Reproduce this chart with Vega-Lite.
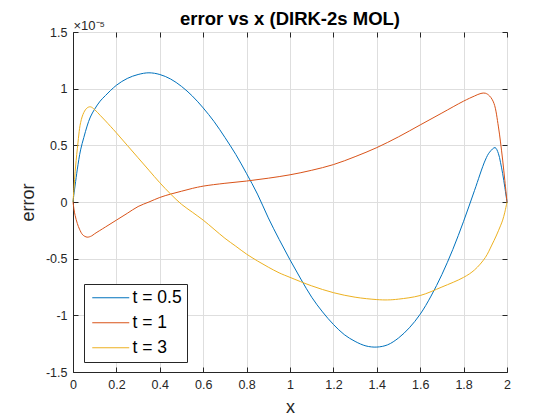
{
  "$schema": "https://vega.github.io/schema/vega-lite/v6.json",
  "width": 434,
  "height": 340,
  "autosize": {"type": "none"},
  "padding": {"left": 73, "top": 32, "right": 53, "bottom": 48},
  "background": "white",
  "config": {
    "font": "Liberation Sans",
    "view": {"stroke": "#262626", "strokeWidth": 1}
  },
  "title": {
    "text": "error vs x (DIRK-2s MOL)",
    "font": "Liberation Sans",
    "fontSize": 18.5,
    "fontWeight": "bold",
    "color": "black",
    "anchor": "middle",
    "baseline": "alphabetic",
    "offset": -24
  },
  "data": {
    "values": [
      {"series": "t = 0.5", "x": 0, "error": 0},
      {"series": "t = 0.5", "x": 0.005, "error": 0.08e-5},
      {"series": "t = 0.5", "x": 0.01, "error": 0.15e-5},
      {"series": "t = 0.5", "x": 0.02, "error": 0.29e-5},
      {"series": "t = 0.5", "x": 0.035, "error": 0.46e-5},
      {"series": "t = 0.5", "x": 0.05, "error": 0.57e-5},
      {"series": "t = 0.5", "x": 0.065, "error": 0.67e-5},
      {"series": "t = 0.5", "x": 0.08, "error": 0.75e-5},
      {"series": "t = 0.5", "x": 0.1, "error": 0.82e-5},
      {"series": "t = 0.5", "x": 0.125, "error": 0.89e-5},
      {"series": "t = 0.5", "x": 0.15, "error": 0.94e-5},
      {"series": "t = 0.5", "x": 0.2, "error": 1.03e-5},
      {"series": "t = 0.5", "x": 0.25, "error": 1.09e-5},
      {"series": "t = 0.5", "x": 0.3, "error": 1.125e-5},
      {"series": "t = 0.5", "x": 0.35, "error": 1.14e-5},
      {"series": "t = 0.5", "x": 0.4, "error": 1.125e-5},
      {"series": "t = 0.5", "x": 0.45, "error": 1.085e-5},
      {"series": "t = 0.5", "x": 0.5, "error": 1.02e-5},
      {"series": "t = 0.5", "x": 0.55, "error": 0.935e-5},
      {"series": "t = 0.5", "x": 0.6, "error": 0.83e-5},
      {"series": "t = 0.5", "x": 0.65, "error": 0.71e-5},
      {"series": "t = 0.5", "x": 0.7, "error": 0.57e-5},
      {"series": "t = 0.5", "x": 0.75, "error": 0.42e-5},
      {"series": "t = 0.5", "x": 0.8, "error": 0.25e-5},
      {"series": "t = 0.5", "x": 0.85, "error": 0.07e-5},
      {"series": "t = 0.5", "x": 0.9, "error": -0.14e-5},
      {"series": "t = 0.5", "x": 0.95, "error": -0.33e-5},
      {"series": "t = 0.5", "x": 1.0, "error": -0.51e-5},
      {"series": "t = 0.5", "x": 1.05, "error": -0.68e-5},
      {"series": "t = 0.5", "x": 1.1, "error": -0.84e-5},
      {"series": "t = 0.5", "x": 1.15, "error": -0.97e-5},
      {"series": "t = 0.5", "x": 1.2, "error": -1.08e-5},
      {"series": "t = 0.5", "x": 1.25, "error": -1.17e-5},
      {"series": "t = 0.5", "x": 1.3, "error": -1.23e-5},
      {"series": "t = 0.5", "x": 1.35, "error": -1.27e-5},
      {"series": "t = 0.5", "x": 1.4, "error": -1.28e-5},
      {"series": "t = 0.5", "x": 1.45, "error": -1.26e-5},
      {"series": "t = 0.5", "x": 1.5, "error": -1.2e-5},
      {"series": "t = 0.5", "x": 1.55, "error": -1.11e-5},
      {"series": "t = 0.5", "x": 1.6, "error": -0.99e-5},
      {"series": "t = 0.5", "x": 1.65, "error": -0.83e-5},
      {"series": "t = 0.5", "x": 1.7, "error": -0.64e-5},
      {"series": "t = 0.5", "x": 1.75, "error": -0.42e-5},
      {"series": "t = 0.5", "x": 1.8, "error": -0.17e-5},
      {"series": "t = 0.5", "x": 1.85, "error": 0.1e-5},
      {"series": "t = 0.5", "x": 1.9, "error": 0.37e-5},
      {"series": "t = 0.5", "x": 1.92, "error": 0.44e-5},
      {"series": "t = 0.5", "x": 1.945, "error": 0.48e-5},
      {"series": "t = 0.5", "x": 1.96, "error": 0.43e-5},
      {"series": "t = 0.5", "x": 1.97, "error": 0.35e-5},
      {"series": "t = 0.5", "x": 1.98, "error": 0.25e-5},
      {"series": "t = 0.5", "x": 1.99, "error": 0.13e-5},
      {"series": "t = 0.5", "x": 2, "error": 0},
      {"series": "t = 1", "x": 0, "error": 0},
      {"series": "t = 1", "x": 0.005, "error": -0.07e-5},
      {"series": "t = 1", "x": 0.01, "error": -0.12e-5},
      {"series": "t = 1", "x": 0.02, "error": -0.19e-5},
      {"series": "t = 1", "x": 0.03, "error": -0.24e-5},
      {"series": "t = 1", "x": 0.045, "error": -0.29e-5},
      {"series": "t = 1", "x": 0.065, "error": -0.31e-5},
      {"series": "t = 1", "x": 0.085, "error": -0.3e-5},
      {"series": "t = 1", "x": 0.1, "error": -0.28e-5},
      {"series": "t = 1", "x": 0.15, "error": -0.22e-5},
      {"series": "t = 1", "x": 0.2, "error": -0.16e-5},
      {"series": "t = 1", "x": 0.25, "error": -0.1e-5},
      {"series": "t = 1", "x": 0.3, "error": -0.04e-5},
      {"series": "t = 1", "x": 0.35, "error": 0.0},
      {"series": "t = 1", "x": 0.4, "error": 0.04e-5},
      {"series": "t = 1", "x": 0.45, "error": 0.07e-5},
      {"series": "t = 1", "x": 0.5, "error": 0.095e-5},
      {"series": "t = 1", "x": 0.55, "error": 0.12e-5},
      {"series": "t = 1", "x": 0.6, "error": 0.14e-5},
      {"series": "t = 1", "x": 0.7, "error": 0.165e-5},
      {"series": "t = 1", "x": 0.8, "error": 0.185e-5},
      {"series": "t = 1", "x": 0.9, "error": 0.21e-5},
      {"series": "t = 1", "x": 1.0, "error": 0.24e-5},
      {"series": "t = 1", "x": 1.1, "error": 0.28e-5},
      {"series": "t = 1", "x": 1.2, "error": 0.33e-5},
      {"series": "t = 1", "x": 1.3, "error": 0.4e-5},
      {"series": "t = 1", "x": 1.4, "error": 0.48e-5},
      {"series": "t = 1", "x": 1.5, "error": 0.575e-5},
      {"series": "t = 1", "x": 1.6, "error": 0.68e-5},
      {"series": "t = 1", "x": 1.7, "error": 0.785e-5},
      {"series": "t = 1", "x": 1.8, "error": 0.89e-5},
      {"series": "t = 1", "x": 1.85, "error": 0.935e-5},
      {"series": "t = 1", "x": 1.88, "error": 0.958e-5},
      {"series": "t = 1", "x": 1.9, "error": 0.96e-5},
      {"series": "t = 1", "x": 1.92, "error": 0.935e-5},
      {"series": "t = 1", "x": 1.94, "error": 0.87e-5},
      {"series": "t = 1", "x": 1.96, "error": 0.67e-5},
      {"series": "t = 1", "x": 1.97, "error": 0.53e-5},
      {"series": "t = 1", "x": 1.98, "error": 0.37e-5},
      {"series": "t = 1", "x": 1.99, "error": 0.19e-5},
      {"series": "t = 1", "x": 2, "error": 0},
      {"series": "t = 3", "x": 0, "error": 0},
      {"series": "t = 3", "x": 0.005, "error": 0.13e-5},
      {"series": "t = 3", "x": 0.01, "error": 0.27e-5},
      {"series": "t = 3", "x": 0.02, "error": 0.47e-5},
      {"series": "t = 3", "x": 0.035, "error": 0.7e-5},
      {"series": "t = 3", "x": 0.05, "error": 0.79e-5},
      {"series": "t = 3", "x": 0.065, "error": 0.83e-5},
      {"series": "t = 3", "x": 0.08, "error": 0.84e-5},
      {"series": "t = 3", "x": 0.1, "error": 0.815e-5},
      {"series": "t = 3", "x": 0.125, "error": 0.765e-5},
      {"series": "t = 3", "x": 0.15, "error": 0.715e-5},
      {"series": "t = 3", "x": 0.2, "error": 0.61e-5},
      {"series": "t = 3", "x": 0.25, "error": 0.5e-5},
      {"series": "t = 3", "x": 0.3, "error": 0.39e-5},
      {"series": "t = 3", "x": 0.35, "error": 0.28e-5},
      {"series": "t = 3", "x": 0.4, "error": 0.17e-5},
      {"series": "t = 3", "x": 0.45, "error": 0.07e-5},
      {"series": "t = 3", "x": 0.5, "error": -0.02e-5},
      {"series": "t = 3", "x": 0.55, "error": -0.09e-5},
      {"series": "t = 3", "x": 0.6, "error": -0.16e-5},
      {"series": "t = 3", "x": 0.65, "error": -0.24e-5},
      {"series": "t = 3", "x": 0.7, "error": -0.32e-5},
      {"series": "t = 3", "x": 0.75, "error": -0.39e-5},
      {"series": "t = 3", "x": 0.8, "error": -0.46e-5},
      {"series": "t = 3", "x": 0.85, "error": -0.52e-5},
      {"series": "t = 3", "x": 0.9, "error": -0.575e-5},
      {"series": "t = 3", "x": 0.95, "error": -0.625e-5},
      {"series": "t = 3", "x": 1.0, "error": -0.665e-5},
      {"series": "t = 3", "x": 1.1, "error": -0.74e-5},
      {"series": "t = 3", "x": 1.2, "error": -0.8e-5},
      {"series": "t = 3", "x": 1.3, "error": -0.84e-5},
      {"series": "t = 3", "x": 1.4, "error": -0.861e-5},
      {"series": "t = 3", "x": 1.45, "error": -0.864e-5},
      {"series": "t = 3", "x": 1.5, "error": -0.857e-5},
      {"series": "t = 3", "x": 1.6, "error": -0.825e-5},
      {"series": "t = 3", "x": 1.7, "error": -0.75e-5},
      {"series": "t = 3", "x": 1.8, "error": -0.665e-5},
      {"series": "t = 3", "x": 1.85, "error": -0.6e-5},
      {"series": "t = 3", "x": 1.9, "error": -0.49e-5},
      {"series": "t = 3", "x": 1.93, "error": -0.38e-5},
      {"series": "t = 3", "x": 1.95, "error": -0.3e-5},
      {"series": "t = 3", "x": 1.97, "error": -0.21e-5},
      {"series": "t = 3", "x": 1.98, "error": -0.16e-5},
      {"series": "t = 3", "x": 1.99, "error": -0.09e-5},
      {"series": "t = 3", "x": 2, "error": 0}
    ]
  },
  "layer": [
    {
      "mark": {"type": "line", "strokeWidth": 1, "interpolate": "catmull-rom"},
      "encoding": {
        "x": {
          "field": "x",
          "type": "quantitative",
          "scale": {"domain": [0, 2], "nice": false, "zero": false},
          "axis": {
            "values": [0, 0.2, 0.4, 0.6, 0.8, 1, 1.2, 1.4, 1.6, 1.8, 2],
            "labelExpr": "format(datum.value, '~g')",
            "title": "x",
            "titleFontSize": 18,
            "titleFontWeight": "normal",
            "titleColor": "#262626",
            "titlePadding": 8,
            "labelFontSize": 12.5,
            "labelColor": "#262626",
            "labelPadding": 11,
            "labelFlush": false,
            "tickSize": -5,
            "tickColor": "#262626",
            "domainColor": "#262626",
            "gridColor": "#dedede"
          }
        },
        "y": {
          "field": "error",
          "type": "quantitative",
          "scale": {"domain": [-1.5e-5, 1.5e-5], "nice": false, "zero": false},
          "axis": {
            "values": [-1.5e-5, -1e-5, -0.5e-5, 0, 0.5e-5, 1e-5, 1.5e-5],
            "labelExpr": "replace(format(datum.value * 100000, '.1~f'), '\u2212', '-')",
            "title": "error",
            "titleFontSize": 18,
            "titleFontWeight": "normal",
            "titleColor": "#262626",
            "titlePadding": 8,
            "labelFontSize": 12.5,
            "labelColor": "#262626",
            "labelPadding": 11,
            "labelFlush": false,
            "tickSize": -5,
            "tickColor": "#262626",
            "domainColor": "#262626",
            "gridColor": "#dedede"
          }
        },
        "color": {
          "field": "series",
          "type": "nominal",
          "scale": {
            "domain": ["t = 0.5", "t = 1", "t = 3"],
            "range": ["#0072BD", "#D95319", "#EDB120"]
          },
          "legend": {
            "title": null,
            "orient": "none",
            "legendX": 11,
            "legendY": 252,
            "strokeColor": "#262626",
            "fillColor": "white",
            "padding": 5,
            "cornerRadius": 0,
            "symbolType": "M-3.7,0H3.7",
            "symbolSize": 100,
            "symbolStrokeWidth": 1,
            "symbolOffset": 13,
            "labelOffset": 13,
            "labelFontSize": 17.5,
            "labelColor": "black",
            "labelLimit": 200,
            "rowPadding": 6
          }
        }
      }
    },
    {
      "mark": {"type": "point", "opacity": 0},
      "encoding": {
        "x": {
          "field": "x",
          "type": "quantitative",
          "axis": {
            "orient": "top",
            "values": [0, 0.2, 0.4, 0.6, 0.8, 1, 1.2, 1.4, 1.6, 1.8, 2],
            "labels": false,
            "grid": false,
            "domain": false,
            "tickSize": -5,
            "tickColor": "#262626",
            "title": "×10⁻⁵",
            "titleAnchor": "start",
            "titleAlign": "left",
            "titleBaseline": "alphabetic",
            "titleX": 0,
            "titleY": -3,
            "titleFontSize": 13,
            "titleFontWeight": "normal",
            "titleColor": "#262626"
          }
        },
        "y": {
          "field": "error",
          "type": "quantitative",
          "axis": {
            "orient": "right",
            "values": [-1.5e-5, -1e-5, -0.5e-5, 0, 0.5e-5, 1e-5, 1.5e-5],
            "labels": false,
            "grid": false,
            "domain": false,
            "tickSize": -5,
            "tickColor": "#262626",
            "title": null
          }
        }
      }
    }
  ],
  "resolve": {"axis": {"x": "independent", "y": "independent"}}
}
